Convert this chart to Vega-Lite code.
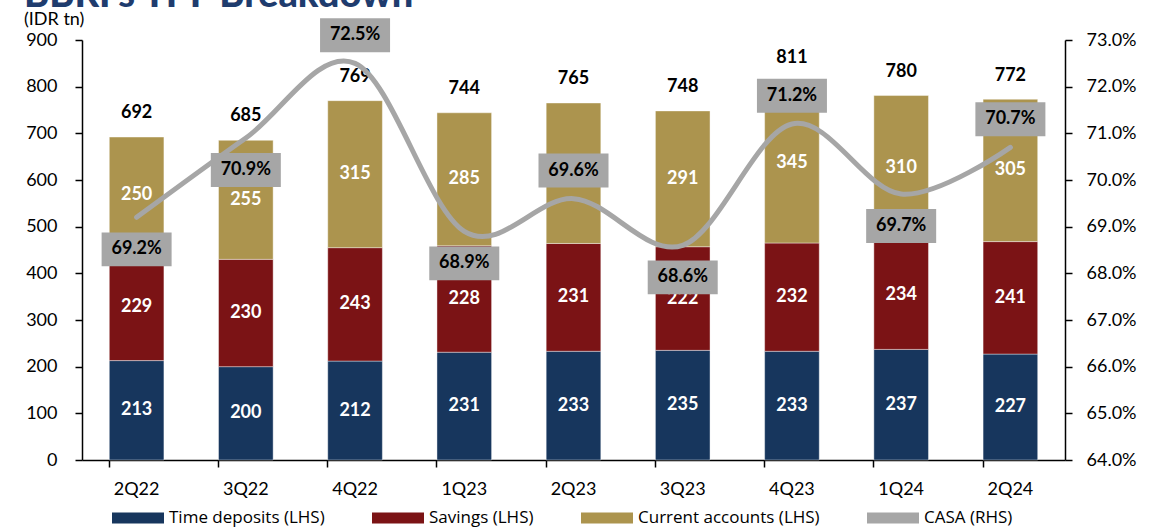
{
  "$schema": "https://vega.github.io/schema/vega-lite/v6.json",
  "width": 983,
  "height": 420,
  "autosize": {"type": "none"},
  "padding": {"left": 82, "top": 40, "right": 101, "bottom": 72},
  "background": "white",
  "config": {
    "font": "Lato",
    "view": {"stroke": null},
    "axis": {
      "grid": false,
      "domainColor": "black",
      "tickColor": "black",
      "labelColor": "black",
      "labelFontSize": 18,
      "labelFont": "Lato",
      "domainWidth": 1.5,
      "tickWidth": 1.5,
      "tickSize": 7
    }
  },
  "title": {
    "text": "BBRI's TPF Breakdown",
    "subtitle": "(IDR tn)",
    "anchor": "start",
    "frame": "group",
    "orient": "top",
    "font": "Lato",
    "fontSize": 38,
    "fontWeight": 900,
    "color": "#1F3C6E",
    "subtitleFont": "Lato",
    "subtitleFontSize": 18,
    "subtitleColor": "black",
    "subtitlePadding": -4,
    "dx": -58,
    "offset": -11
  },
  "datasets": {
    "deposits": [
      {"q": "2Q22", "series": "Time deposits (LHS)", "value": 213},
      {"q": "3Q22", "series": "Time deposits (LHS)", "value": 200},
      {"q": "4Q22", "series": "Time deposits (LHS)", "value": 212},
      {"q": "1Q23", "series": "Time deposits (LHS)", "value": 231},
      {"q": "2Q23", "series": "Time deposits (LHS)", "value": 233},
      {"q": "3Q23", "series": "Time deposits (LHS)", "value": 235},
      {"q": "4Q23", "series": "Time deposits (LHS)", "value": 233},
      {"q": "1Q24", "series": "Time deposits (LHS)", "value": 237},
      {"q": "2Q24", "series": "Time deposits (LHS)", "value": 227},
      {"q": "2Q22", "series": "Savings (LHS)", "value": 229},
      {"q": "3Q22", "series": "Savings (LHS)", "value": 230},
      {"q": "4Q22", "series": "Savings (LHS)", "value": 243},
      {"q": "1Q23", "series": "Savings (LHS)", "value": 228},
      {"q": "2Q23", "series": "Savings (LHS)", "value": 231},
      {"q": "3Q23", "series": "Savings (LHS)", "value": 222},
      {"q": "4Q23", "series": "Savings (LHS)", "value": 232},
      {"q": "1Q24", "series": "Savings (LHS)", "value": 234},
      {"q": "2Q24", "series": "Savings (LHS)", "value": 241},
      {"q": "2Q22", "series": "Current accounts (LHS)", "value": 250},
      {"q": "3Q22", "series": "Current accounts (LHS)", "value": 255},
      {"q": "4Q22", "series": "Current accounts (LHS)", "value": 315},
      {"q": "1Q23", "series": "Current accounts (LHS)", "value": 285},
      {"q": "2Q23", "series": "Current accounts (LHS)", "value": 301},
      {"q": "3Q23", "series": "Current accounts (LHS)", "value": 291},
      {"q": "4Q23", "series": "Current accounts (LHS)", "value": 345},
      {"q": "1Q24", "series": "Current accounts (LHS)", "value": 310},
      {"q": "2Q24", "series": "Current accounts (LHS)", "value": 305}
    ],
    "quarters": [
      {"q": "2Q22", "total": 692, "casa": 0.692},
      {"q": "3Q22", "total": 685, "casa": 0.709},
      {"q": "4Q22", "total": 769, "casa": 0.725},
      {"q": "1Q23", "total": 744, "casa": 0.689},
      {"q": "2Q23", "total": 765, "casa": 0.696},
      {"q": "3Q23", "total": 748, "casa": 0.686},
      {"q": "4Q23", "total": 811, "casa": 0.712},
      {"q": "1Q24", "total": 780, "casa": 0.697},
      {"q": "2Q24", "total": 772, "casa": 0.707}
    ]
  },
  "layer": [
    {
      "data": {"name": "deposits"},
      "encoding": {
        "x": {
          "field": "q",
          "type": "nominal",
          "sort": ["2Q22", "3Q22", "4Q22", "1Q23", "2Q23", "3Q23", "4Q23", "1Q24", "2Q24"],
          "scale": {"type": "band", "paddingInner": 0.5, "paddingOuter": 0.25},
          "axis": {"title": null, "labelAngle": 0, "domain": false, "ticks": true, "tickOpacity": 0, "labelPadding": 13}
        }
      },
      "layer": [
        {
          "mark": {"type": "bar", "stroke": "white", "strokeWidth": 0.8, "strokeOpacity": 0.5},
          "encoding": {
            "y": {
              "field": "value",
              "type": "quantitative",
              "stack": "zero",
              "scale": {"domain": [0, 900], "nice": false},
              "axis": {"title": null, "values": [0, 100, 200, 300, 400, 500, 600, 700, 800, 900], "labelPadding": 18}
            },
            "color": {
              "field": "series",
              "type": "nominal",
              "scale": {
                "domain": ["Time deposits (LHS)", "Savings (LHS)", "Current accounts (LHS)", "CASA (RHS)"],
                "range": ["#17365D", "#7B1315", "#AC944E", "#A6A6A6"]
              },
              "legend": {
                "title": null,
                "orient": "none",
                "legendX": 30,
                "legendY": 452,
                "direction": "horizontal",
                "columnPadding": 47,
                "labelFont": "Open Sans",
                "labelFontSize": 17,
                "labelColor": "black",
                "labelOffset": 5,
                "labelLimit": 0,
                "symbolSize": 2704,
                "symbolType": "M-1,-0.21H1V0.21H-1Z",
                "symbolStrokeWidth": 0,
                "encode": {
                  "symbols": {
                    "shape": {"signal": "datum.value === 'CASA (RHS)' ? 'M-1,-0.08H1V0.08H-1Z' : 'M-1,-0.21H1V0.21H-1Z'"},
                    "fill": {"signal": "scale('color', datum.value)"},
                    "stroke": {"value": "transparent"},
                    "strokeWidth": {"value": 0},
                    "opacity": {"value": 1}
                  }
                }
              }
            },
            "order": {"field": "series", "sort": "descending"}
          }
        },
        {
          "transform": [{"filter": "datum.q !== '2Q23' || datum.series !== 'Current accounts (LHS)'"}],
          "mark": {"type": "text", "color": "white", "fontWeight": "bold", "fontSize": 18, "baseline": "middle"},
          "encoding": {
            "y": {"field": "value", "type": "quantitative", "stack": "zero", "bandPosition": 0.5},
            "detail": {"field": "series"},
            "order": {"field": "series", "sort": "descending"},
            "text": {"field": "value", "type": "quantitative"}
          }
        },
        {
          "data": {"name": "quarters"},
          "mark": {"type": "text", "color": "black", "fontWeight": "bold", "fontSize": 18, "baseline": "middle", "dy": -24},
          "encoding": {
            "y": {"field": "total", "type": "quantitative"},
            "text": {"field": "total", "type": "quantitative"}
          }
        }
      ]
    },
    {
      "data": {"name": "quarters"},
      "encoding": {
        "x": {
          "field": "q",
          "type": "nominal",
          "sort": ["2Q22", "3Q22", "4Q22", "1Q23", "2Q23", "3Q23", "4Q23", "1Q24", "2Q24"],
          "scale": {"type": "band", "paddingInner": 0.5, "paddingOuter": 0.25},
          "axis": {"title": null, "labels": false, "ticks": true, "domain": true, "bandPosition": 0, "orient": "bottom"}
        },
        "y": {
          "field": "casa",
          "type": "quantitative",
          "scale": {"domain": [0.64, 0.73], "nice": false, "zero": false},
          "axis": {
            "title": null,
            "orient": "right",
            "format": ".1%",
            "values": [0.64, 0.65, 0.66, 0.67, 0.68, 0.69, 0.70, 0.71, 0.72, 0.73],
            "labelPadding": 14
          }
        }
      },
      "layer": [
        {
          "mark": {"type": "line", "interpolate": "cardinal", "strokeWidth": 5, "strokeCap": "round"},
          "encoding": {
            "color": {"datum": "CASA (RHS)", "type": "nominal"}
          }
        },
        {
          "transform": [{"filter": {"field": "q", "oneOf": ["2Q22", "3Q22", "1Q23", "3Q23", "1Q24"]}}],
          "mark": {"type": "point", "shape": "M-1,0.43H1V1.4H-1Z", "size": 4900, "filled": true, "fill": "#A6A6A6", "opacity": 1, "strokeWidth": 0}
        },
        {
          "transform": [{"filter": {"field": "q", "oneOf": ["4Q22", "2Q23", "4Q23", "2Q24"]}}],
          "mark": {"type": "point", "shape": "M-1,-1.29H1V-0.32H-1Z", "size": 4900, "filled": true, "fill": "#A6A6A6", "opacity": 1, "strokeWidth": 0}
        },
        {
          "transform": [{"filter": {"field": "q", "oneOf": ["2Q22", "3Q22", "1Q23", "3Q23", "1Q24"]}}],
          "mark": {"type": "text", "color": "black", "fontWeight": "bold", "fontSize": 18, "baseline": "middle", "dy": 32},
          "encoding": {"text": {"field": "casa", "type": "quantitative", "format": ".1%"}}
        },
        {
          "transform": [{"filter": {"field": "q", "oneOf": ["4Q22", "2Q23", "4Q23", "2Q24"]}}],
          "mark": {"type": "text", "color": "black", "fontWeight": "bold", "fontSize": 18, "baseline": "middle", "dy": -28},
          "encoding": {"text": {"field": "casa", "type": "quantitative", "format": ".1%"}}
        }
      ]
    }
  ],
  "resolve": {"scale": {"y": "independent"}, "axis": {"x": "independent"}}
}
